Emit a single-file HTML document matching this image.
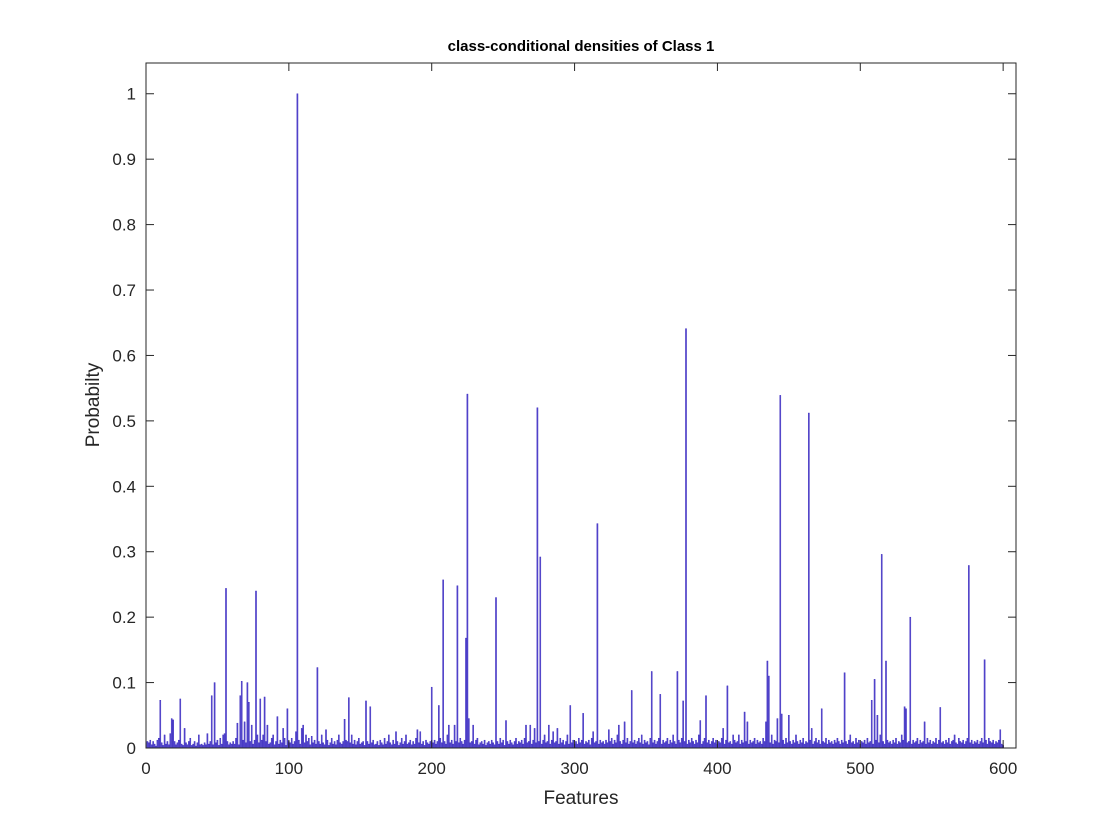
<!DOCTYPE html>
<html><head><meta charset="utf-8"><style>
body{margin:0;background:#fff;}
svg{display:block;font-family:"Liberation Sans",sans-serif;}
</style></head><body>
<svg id="chart" width="1120" height="840">
<rect x="0" y="0" width="1120" height="840" fill="#fff"/>
<g id="bars"></g>
<rect x="146" y="63" width="870" height="685" fill="none" stroke="#262626" stroke-width="1"/>
<g id="ticks"></g>
<text x="581" y="51" text-anchor="middle" font-size="15" font-weight="bold" fill="#000">class-conditional densities of Class 1</text>
<text x="581" y="804" text-anchor="middle" font-size="19" fill="#262626">Features</text>
<text transform="translate(99,405) rotate(-90)" text-anchor="middle" font-size="19" fill="#262626">Probabilty</text>
</svg>
<script>
const xTicks=[0,100,200,300,400,500,600];
const yTicks=[0,0.1,0.2,0.3,0.4,0.5,0.6,0.7,0.8,0.9,1];
const yTickLabels=["0","0.1","0.2","0.3","0.4","0.5","0.6","0.7","0.8","0.9","1"];
const values=[
0.01,0.008,0.012,0.005,0.01,0.006,0.003,0.012,0.015,0.073,0.008,0.004,0.02,0.006,0.01,0.005,0.022,0.045,0.043,0.01,
0.005,0.008,0.012,0.075,0.006,0.004,0.03,0.008,0.005,0.01,0.015,0.004,0.006,0.01,0.003,0.008,0.02,0.005,0.006,0.004,
0.008,0.005,0.022,0.006,0.01,0.08,0.005,0.1,0.008,0.012,0.004,0.015,0.006,0.02,0.022,0.244,0.01,0.005,0.008,0.006,
0.01,0.006,0.015,0.038,0.005,0.08,0.102,0.012,0.04,0.008,0.1,0.07,0.01,0.035,0.006,0.012,0.24,0.02,0.008,0.075,
0.012,0.02,0.078,0.01,0.035,0.006,0.008,0.015,0.02,0.005,0.01,0.048,0.006,0.012,0.008,0.03,0.015,0.004,0.06,0.01,
0.008,0.015,0.006,0.01,0.025,1.0,0.012,0.006,0.03,0.035,0.008,0.02,0.01,0.015,0.005,0.018,0.008,0.012,0.006,0.123,
0.01,0.006,0.02,0.008,0.005,0.028,0.012,0.004,0.008,0.015,0.006,0.01,0.005,0.012,0.02,0.008,0.006,0.01,0.044,0.012,
0.01,0.077,0.008,0.02,0.006,0.012,0.005,0.01,0.015,0.006,0.008,0.01,0.004,0.072,0.01,0.006,0.063,0.008,0.012,0.005,
0.006,0.01,0.004,0.012,0.008,0.005,0.015,0.006,0.01,0.02,0.008,0.005,0.012,0.006,0.025,0.01,0.004,0.008,0.015,0.006,
0.01,0.02,0.006,0.008,0.012,0.005,0.01,0.006,0.015,0.028,0.008,0.025,0.006,0.01,0.004,0.012,0.008,0.006,0.01,0.093,
0.008,0.012,0.006,0.01,0.065,0.015,0.008,0.257,0.01,0.006,0.02,0.035,0.008,0.012,0.006,0.035,0.01,0.248,0.008,0.015,
0.01,0.006,0.012,0.168,0.541,0.045,0.008,0.01,0.035,0.006,0.012,0.015,0.005,0.008,0.01,0.006,0.012,0.004,0.008,0.01,
0.006,0.012,0.008,0.005,0.23,0.01,0.006,0.015,0.008,0.012,0.004,0.042,0.01,0.006,0.012,0.008,0.005,0.01,0.015,0.006,
0.01,0.008,0.012,0.006,0.015,0.035,0.008,0.01,0.035,0.006,0.012,0.03,0.008,0.52,0.01,0.292,0.006,0.012,0.02,0.008,
0.01,0.035,0.006,0.012,0.025,0.008,0.01,0.03,0.006,0.015,0.008,0.012,0.005,0.01,0.02,0.006,0.065,0.008,0.012,0.006,
0.01,0.006,0.015,0.008,0.012,0.053,0.006,0.01,0.008,0.012,0.005,0.015,0.025,0.008,0.01,0.343,0.006,0.012,0.008,0.01,
0.006,0.012,0.008,0.028,0.01,0.015,0.006,0.012,0.008,0.02,0.035,0.01,0.006,0.012,0.04,0.008,0.015,0.006,0.01,0.088,
0.008,0.012,0.006,0.01,0.015,0.008,0.02,0.006,0.012,0.008,0.01,0.005,0.015,0.117,0.008,0.012,0.006,0.01,0.015,0.082,
0.006,0.012,0.008,0.01,0.015,0.006,0.012,0.008,0.02,0.01,0.006,0.117,0.012,0.008,0.015,0.072,0.01,0.641,0.006,0.012,
0.008,0.015,0.01,0.006,0.012,0.008,0.02,0.042,0.006,0.01,0.015,0.08,0.008,0.012,0.006,0.01,0.015,0.008,0.012,0.006,
0.01,0.008,0.015,0.03,0.006,0.012,0.095,0.008,0.01,0.006,0.02,0.012,0.008,0.01,0.02,0.006,0.012,0.008,0.055,0.01,
0.04,0.006,0.012,0.008,0.01,0.015,0.006,0.012,0.008,0.01,0.006,0.015,0.01,0.04,0.133,0.11,0.008,0.02,0.006,0.012,
0.01,0.045,0.008,0.539,0.052,0.012,0.006,0.015,0.008,0.05,0.01,0.006,0.012,0.008,0.02,0.01,0.006,0.012,0.008,0.015,
0.006,0.01,0.008,0.512,0.012,0.03,0.006,0.01,0.015,0.008,0.012,0.006,0.06,0.01,0.008,0.015,0.006,0.012,0.008,0.01,
0.006,0.012,0.008,0.015,0.01,0.006,0.012,0.008,0.115,0.01,0.006,0.012,0.02,0.008,0.01,0.006,0.015,0.008,0.012,0.006,
0.01,0.008,0.012,0.006,0.015,0.008,0.01,0.073,0.006,0.105,0.012,0.05,0.008,0.02,0.296,0.01,0.006,0.133,0.012,0.008,
0.01,0.006,0.012,0.008,0.015,0.006,0.01,0.008,0.02,0.012,0.063,0.06,0.008,0.01,0.2,0.006,0.012,0.008,0.01,0.015,
0.006,0.012,0.008,0.01,0.04,0.006,0.015,0.008,0.012,0.006,0.01,0.008,0.015,0.006,0.012,0.062,0.008,0.01,0.006,0.012,
0.008,0.015,0.006,0.01,0.012,0.02,0.008,0.006,0.015,0.01,0.008,0.012,0.006,0.01,0.015,0.279,0.008,0.012,0.006,0.01,
0.008,0.012,0.006,0.01,0.015,0.008,0.135,0.012,0.006,0.015,0.01,0.008,0.012,0.006,0.01,0.008,0.012,0.028,0.006,0.004
];
const NS="http://www.w3.org/2000/svg";
const X0=146,X1=1016,Y0=748,Y1=63,XMAX=609,YMAX=1.047;
const xs=v=>X0+(v/XMAX)*(X1-X0);
const ys=v=>Y0-(v/YMAX)*(Y0-Y1);
const bars=document.getElementById('bars');
values.forEach((v,i)=>{
  const r=document.createElementNS(NS,'rect');
  const a=xs(i+1-0.4),b=xs(i+1+0.4);
  r.setAttribute('x',a);r.setAttribute('width',Math.max(b-a,1));
  r.setAttribute('y',ys(v));r.setAttribute('height',Y0-ys(v));
  r.setAttribute('fill','#5a4fd0');r.setAttribute('stroke','#3322bb');r.setAttribute('stroke-width','0.4');
  
  
  bars.appendChild(r);
});
const tk=document.getElementById('ticks');
function line(x1,y1,x2,y2){const l=document.createElementNS(NS,'line');l.setAttribute('x1',x1);l.setAttribute('y1',y1);l.setAttribute('x2',x2);l.setAttribute('y2',y2);l.setAttribute('stroke','#262626');


tk.appendChild(l);}
function text(x,y,s,anchor){const t=document.createElementNS(NS,'text');t.setAttribute('x',x);t.setAttribute('y',y);t.setAttribute('text-anchor',anchor);t.setAttribute('font-size','17');t.setAttribute('fill','#262626');t.textContent=s;


tk.appendChild(t);}
xTicks.forEach(v=>{const x=xs(v);line(x,Y0,x,Y0-8);line(x,Y1,x,Y1+8);text(x,774,String(v),'middle');});
yTicks.forEach((v,i)=>{const y=ys(v);line(X0,y,X0+8,y);line(X1,y,X1-8,y);text(X0-10,y+6,yTickLabels[i],'end');});
</script>
</body></html>
